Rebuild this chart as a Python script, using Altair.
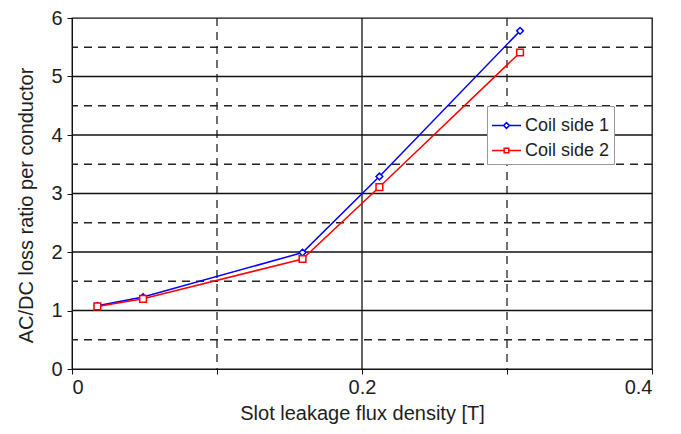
import altair as alt
import pandas as pd

# Data
flux = [0.0175, 0.049, 0.159, 0.212, 0.309]
coil1 = [1.08, 1.23, 1.99, 3.29, 5.78]
coil2 = [1.07, 1.20, 1.88, 3.11, 5.41]
series = ["Coil side 1", "Coil side 2"]
colors = ["#0000ff", "#ff0000"]

solid_y = [1, 2, 3, 4, 5]
dashed_y = [0.5, 1.5, 2.5, 3.5, 4.5, 5.5]
solid_x = [0.2]
dashed_x = [0.1, 0.3]

df = pd.DataFrame({
    "x": flux + flux,
    "y": coil1 + coil2,
    "s": [series[0]] * len(flux) + [series[1]] * len(flux),
})

FONT = "Liberation Sans"
TXT = "#1e1e1e"

xs = alt.Scale(domain=[0, 0.4], nice=False, zero=False)
ys = alt.Scale(domain=[0, 6], nice=False)

xaxis = alt.Axis(values=[0, 0.1, 0.2, 0.3, 0.4], labelExpr="(round(datum.value*10) % 2 == 0) ? format(datum.value, '.1~f') : ''",
                 grid=False, tickSize=5, tickColor="#111", domainColor="#111", labelPadding=3,
                 title="Slot leakage flux density [T]", titlePadding=6)
yaxis = alt.Axis(values=[0, 0.5, 1, 1.5, 2, 2.5, 3, 3.5, 4, 4.5, 5, 5.5, 6],
                 labelExpr="(datum.value % 1 == 0) ? format(datum.value, 'd') : ''",
                 grid=False, tickSize=5, tickColor="#111", domainColor="#111", labelPadding=5,
                 title="AC/DC loss ratio per conductor", titlePadding=14, titleY=187)

hs = alt.Chart(pd.DataFrame({"v": solid_y})).mark_rule(color="#111", strokeWidth=1.3).encode(
    y=alt.Y("v:Q", scale=ys, axis=yaxis))
hd = alt.Chart(pd.DataFrame({"v": dashed_y})).mark_rule(color="#222", strokeWidth=1.3, strokeDash=[8, 6]).encode(
    y=alt.Y("v:Q", scale=ys))
vs = alt.Chart(pd.DataFrame({"v": solid_x})).mark_rule(color="#111", strokeWidth=1.3).encode(
    x=alt.X("v:Q", scale=xs, axis=xaxis))
vd = alt.Chart(pd.DataFrame({"v": dashed_x})).mark_rule(color="#222", strokeWidth=1.3, strokeDash=[8, 6]).encode(
    x=alt.X("v:Q", scale=xs))

cscale = alt.Scale(domain=series, range=colors)

lines = alt.Chart(df).mark_line(strokeWidth=1.5).encode(
    x=alt.X("x:Q", scale=xs),
    y=alt.Y("y:Q", scale=ys),
    color=alt.Color("s:N", scale=cscale, legend=None),
)
pts = alt.Chart(df).mark_point(filled=False, fill="white", fillOpacity=1, strokeWidth=1.5, size=45, opacity=1).encode(
    x=alt.X("x:Q", scale=xs),
    y=alt.Y("y:Q", scale=ys),
    color=alt.Color("s:N", scale=cscale, legend=None),
    shape=alt.Shape("s:N", scale=alt.Scale(domain=series, range=["diamond", "square"]), legend=None),
)

leg_diamond = "M-1,0L-0.2,0M0.2,0L1,0M0,-0.2L0.2,0L0,0.2L-0.2,0Z"
leg_square = "M-1,0L-0.16,0M0.16,0L1,0M-0.16,-0.16L0.16,-0.16L0.16,0.16L-0.16,0.16Z"
leg = alt.Chart(df).mark_point(filled=False, opacity=0, size=900).encode(
    x=alt.X("x:Q", scale=xs),
    y=alt.Y("y:Q", scale=ys),
    color=alt.Color("s:N", scale=cscale, legend=alt.Legend(
        title=None, orient="none", legendX=415, legendY=88)),
    shape=alt.Shape("s:N", scale=alt.Scale(domain=series, range=[leg_diamond, leg_square]), legend=alt.Legend(
        title=None, orient="none", legendX=415, legendY=88)),
)

chart = alt.layer(hd, vd, hs, vs, lines, pts, leg).resolve_scale(
    color="independent", shape="independent"
).properties(
    width=580, height=351,
    background="white",
    autosize=alt.AutoSizeParams(type="none"),
    padding={"left": 64, "top": 10, "right": 21, "bottom": 57},
).configure_view(stroke="#111", strokeWidth=1.3).configure_axis(
    labelFont=FONT, titleFont=FONT, labelFontSize=20, titleFontSize=20,
    labelColor=TXT, titleColor=TXT, titleFontWeight="normal",
).configure_legend(
    symbolOpacity=1, symbolSize=841, symbolStrokeWidth=1.5, symbolFillColor="white",
    fillColor="white", strokeColor="#999", padding=4, labelFontSize=18, labelFont=FONT,
    labelColor=TXT, rowPadding=-4, labelOffset=3, labelLimit=300,
)

chart.save("out.html", embed_options={"renderer": "svg", "actions": False})
